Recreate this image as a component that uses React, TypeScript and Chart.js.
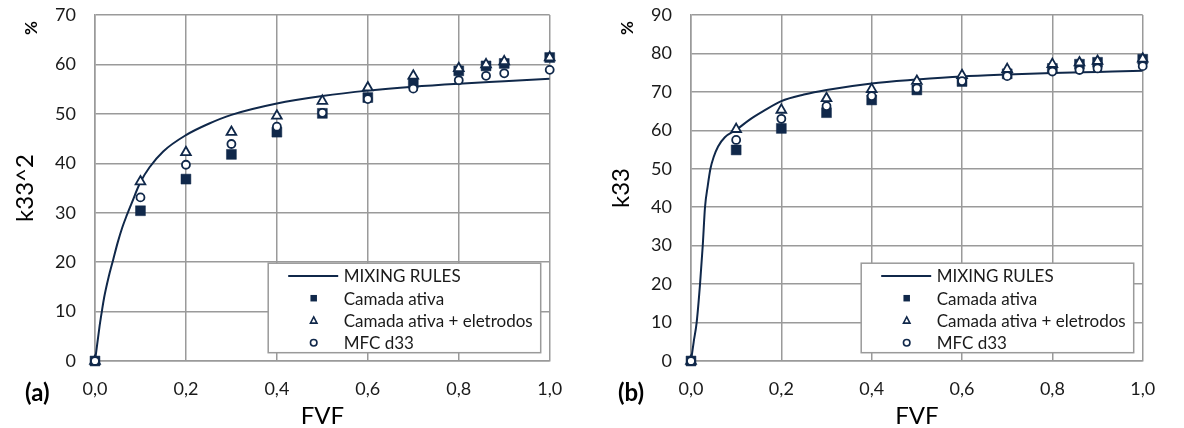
import React, { useEffect, useRef } from 'react';
import { Chart, registerables } from 'chart.js';

Chart.register(...registerables);

// ---------- data ----------
const xTickLabels = ['0,0', '0,2', '0,4', '0,6', '0,8', '1,0'];
const fvf = [0, 0.1, 0.2, 0.3, 0.4, 0.5, 0.6, 0.7, 0.8, 0.86, 0.9, 1.0];

const legendLabels = ['MIXING RULES', 'Camada ativa', 'Camada ativa + eletrodos', 'MFC d33'];

// (a) k33^2 (%)
const k2Camada = [0, 30.4, 36.8, 41.8, 46.3, 50.1, 53.3, 56.2, 58.7, 59.7, 60.2, 61.4];
const k2Eletrodos = [0, 36.3, 42.2, 46.3, 49.6, 52.6, 55.3, 57.7, 59.2, 60.0, 60.6, 61.4];
const k2Mfc = [0, 33.1, 39.7, 43.9, 47.4, 50.2, 53.0, 55.1, 56.8, 57.7, 58.2, 58.9];
const k2MixX = [0, 0.005, 0.01, 0.015, 0.02, 0.03, 0.04, 0.05, 0.06, 0.07, 0.08, 0.1, 0.12, 0.15, 0.2, 0.25, 0.3, 0.4, 0.5, 0.6, 0.7, 0.8, 0.9, 1.0];
const k2MixY = [0, 3.5, 7, 10, 12.8, 17, 20.5, 24, 27, 29.5, 31.8, 36.2, 39.2, 42.4, 45.7, 48.0, 49.8, 52.1, 53.6, 54.7, 55.5, 56.1, 56.6, 57.1];

// (b) k33 (%)
const kCamada = [0, 54.9, 60.5, 64.6, 67.9, 70.5, 72.7, 74.7, 76.1, 77.2, 77.7, 78.5];
const kEletrodos = [0, 60.3, 65.3, 68.3, 70.7, 72.8, 74.3, 75.9, 77.2, 77.6, 78.0, 78.6];
const kMfc = [0, 57.5, 63.0, 66.3, 68.9, 70.9, 72.8, 74.1, 75.3, 75.7, 76.1, 76.7];
const kMixX = [0, 0.006, 0.0125, 0.02, 0.026, 0.031, 0.037, 0.043, 0.05, 0.06, 0.075, 0.1, 0.13, 0.16, 0.2, 0.25, 0.3, 0.4, 0.5, 0.6, 0.7, 0.8, 0.9, 1.0];
const kMixY = [0, 5, 10, 20, 30, 40, 45.5, 50, 53, 55.8, 58.2, 60.1, 62.8, 65.0, 67.6, 69.3, 70.5, 72.2, 73.2, 74.0, 74.5, 74.9, 75.2, 75.5];

// ---------- style ----------
const NAVY = '#10284a';
const GRID = '#9a9a9a';
const FONT = 'Lato, "Open Sans", sans-serif';

function pts(xs: number[], ys: number[]) {
  return xs.map((x, i) => ({ x, y: ys[i] }));
}

function drawMarker(ctx: CanvasRenderingContext2D, kind: string, x: number, y: number, s: number) {
  ctx.save();
  ctx.lineWidth = 1.6;
  ctx.strokeStyle = NAVY;
  if (kind === 'rect') {
    ctx.fillStyle = NAVY;
    ctx.fillRect(x - s / 2, y - s / 2, s, s);
  } else if (kind === 'triangle') {
    ctx.fillStyle = '#fff';
    ctx.beginPath();
    ctx.moveTo(x, y - s * 0.55);
    ctx.lineTo(x + s * 0.5, y + s * 0.4);
    ctx.lineTo(x - s * 0.5, y + s * 0.4);
    ctx.closePath();
    ctx.fill();
    ctx.stroke();
  } else {
    ctx.fillStyle = '#fff';
    ctx.beginPath();
    ctx.arc(x, y, s / 2, 0, Math.PI * 2);
    ctx.fill();
    ctx.stroke();
  }
  ctx.restore();
}

const excelLegend = {
  id: 'excelLegend',
  afterDatasetsDraw(chart: any) {
    const { ctx, chartArea } = chart;
    const w = 272.5;
    const h = 89.5;
    const x0 = chartArea.right - 9 - w;
    const y0 = chartArea.bottom - 8.3 - h;
    ctx.save();
    ctx.fillStyle = '#ffffff';
    ctx.fillRect(x0, y0, w, h);
    ctx.strokeStyle = GRID;
    ctx.lineWidth = 1.5;
    ctx.strokeRect(x0, y0, w, h);
    const kinds = ['line', 'rect', 'triangle', 'circle'];
    chart.data.datasets.forEach((ds: any, i: number) => {
      const cy = y0 + 12.7 + i * 22.3;
      const kind = kinds[i];
      if (kind === 'line') {
        ctx.strokeStyle = NAVY;
        ctx.lineWidth = 2;
        ctx.beginPath();
        ctx.moveTo(x0 + 20, cy);
        ctx.lineTo(x0 + 70, cy);
        ctx.stroke();
      } else {
        drawMarker(ctx, kind, x0 + 45.5, cy, 6.5);
      }
      ctx.fillStyle = '#1a1a1a';
      ctx.font = `17px ${FONT}`;
      ctx.textBaseline = 'middle';
      ctx.textAlign = 'left';
      ctx.fillText(ds.label, x0 + 75.5, cy + 1);
    });
    ctx.restore();
  },
};

const extraLabels = {
  id: 'extraLabels',
  afterDraw(chart: any, _args: any, opts: any) {
    const { ctx, chartArea } = chart;
    ctx.save();
    ctx.fillStyle = '#000';
    // "%" rotated
    ctx.save();
    ctx.translate(chartArea.left - 63, 28);
    ctx.rotate(-Math.PI / 2);
    ctx.font = `bold 17px ${FONT}`;
    ctx.textAlign = 'center';
    ctx.textBaseline = 'middle';
    ctx.fillText('%', 0, 0);
    ctx.restore();
    // panel letter
    ctx.font = `bold 24px ${FONT}`;
    ctx.textAlign = 'left';
    ctx.textBaseline = 'middle';
    ctx.fillText(opts.letter, chartArea.left - opts.letterOffset, 393);
    ctx.restore();
  },
};

type PanelProps = {
  left: number;
  yMax: number;
  yTitle: string;
  letter: string;
  axisWidth: number;
  padRight: number;
  titlePad: number;
  letterOffset: number;
  mixX: number[];
  mixY: number[];
  sq: number[];
  tri: number[];
  circ: number[];
};

function Panel(p: PanelProps) {
  const ref = useRef<HTMLCanvasElement | null>(null);
  useEffect(() => {
    if (!ref.current) return;
    const chart = new Chart(ref.current, {
      type: 'scatter',
      data: {
        datasets: [
          {
            label: legendLabels[0],
            data: pts(p.mixX, p.mixY),
            showLine: true,
            borderColor: NAVY,
            borderWidth: 2,
            pointRadius: 0,
            cubicInterpolationMode: 'monotone',
            order: 4,
          },
          {
            label: legendLabels[1],
            data: pts(fvf, p.sq),
            pointStyle: 'rect',
            pointRadius: 7,
            backgroundColor: NAVY,
            borderColor: NAVY,
            borderWidth: 0.5,
            clip: false,
            order: 3,
          },
          {
            label: legendLabels[2],
            data: pts(fvf, p.tri),
            pointStyle: 'triangle',
            pointRadius: 5.6,
            backgroundColor: '#ffffff',
            borderColor: NAVY,
            borderWidth: 1.8,
            clip: false,
            order: 2,
          },
          {
            label: legendLabels[3],
            data: pts(fvf, p.circ),
            pointStyle: 'circle',
            pointRadius: 4,
            backgroundColor: '#ffffff',
            borderColor: NAVY,
            borderWidth: 1.8,
            clip: false,
            order: 1,
          },
        ],
      } as any,
      options: {
        responsive: false,
        animation: false,
        events: [],
        layout: { padding: { left: 0, right: p.padRight, top: 15, bottom: 0 } },
        plugins: {
          legend: { display: false },
          tooltip: { enabled: false },
          extraLabels: { letter: p.letter, letterOffset: p.letterOffset },
        } as any,
        scales: {
          x: {
            type: 'linear',
            min: 0,
            max: 1,
            ticks: {
              stepSize: 0.2,
              padding: 17,
              color: '#1a1a1a',
              font: { family: FONT, size: 18 },
              maxRotation: 0,
              callback: (_v: any, i: number) => xTickLabels[i],
            },
            grid: { color: GRID, lineWidth: 1.5, drawTicks: false },
            border: { color: GRID, width: 1.5 },
            title: {
              display: true,
              text: 'FVF',
              color: '#000',
              font: { family: FONT, size: 24, lineHeight: 1 },
              padding: { top: 0, bottom: 0 },
            },
            afterFit: (s: any) => {
              s.height = 67;
              s.paddingLeft = 0;
              s.paddingRight = 0;
            },
          },
          y: {
            type: 'linear',
            min: 0,
            max: p.yMax,
            ticks: {
              stepSize: 10,
              padding: 19,
              color: '#1a1a1a',
              font: { family: FONT, size: 18 },
            },
            grid: { color: GRID, lineWidth: 1.5, drawTicks: false },
            border: { color: GRID, width: 1.5 },
            title: {
              display: true,
              text: p.yTitle,
              color: '#000',
              font: { family: FONT, size: 24, lineHeight: 1 },
              padding: { top: p.titlePad, bottom: 0 },
            },
            afterFit: (s: any) => {
              s.width = p.axisWidth;
              s.paddingTop = 0;
              s.paddingBottom = 0;
            },
          },
        },
      } as any,
      plugins: [excelLegend, extraLabels],
    });
    return () => chart.destroy();
  }, []);
  return (
    <canvas
      ref={ref}
      width={592}
      height={428}
      style={{ position: 'absolute', left: p.left, top: 0, width: 592, height: 428 }}
    />
  );
}

export default function App() {
  return (
    <div style={{ position: 'absolute', left: 0, top: 0, width: 1184, height: 428, background: '#fff' }}>
      <Panel
        left={0}
        yMax={70}
        yTitle="k33^2"
        letter="(a)"
        axisWidth={95}
        padRight={42.3}
        titlePad={13}
        letterOffset={70}
        mixX={k2MixX}
        mixY={k2MixY}
        sq={k2Camada}
        tri={k2Eletrodos}
        circ={k2Mfc}
      />
      <Panel
        left={592}
        yMax={90}
        yTitle="k33"
        letter="(b)"
        axisWidth={99}
        padRight={41.3}
        titlePad={17.5}
        letterOffset={73}
        mixX={kMixX}
        mixY={kMixY}
        sq={kCamada}
        tri={kEletrodos}
        circ={kMfc}
      />
    </div>
  );
}
